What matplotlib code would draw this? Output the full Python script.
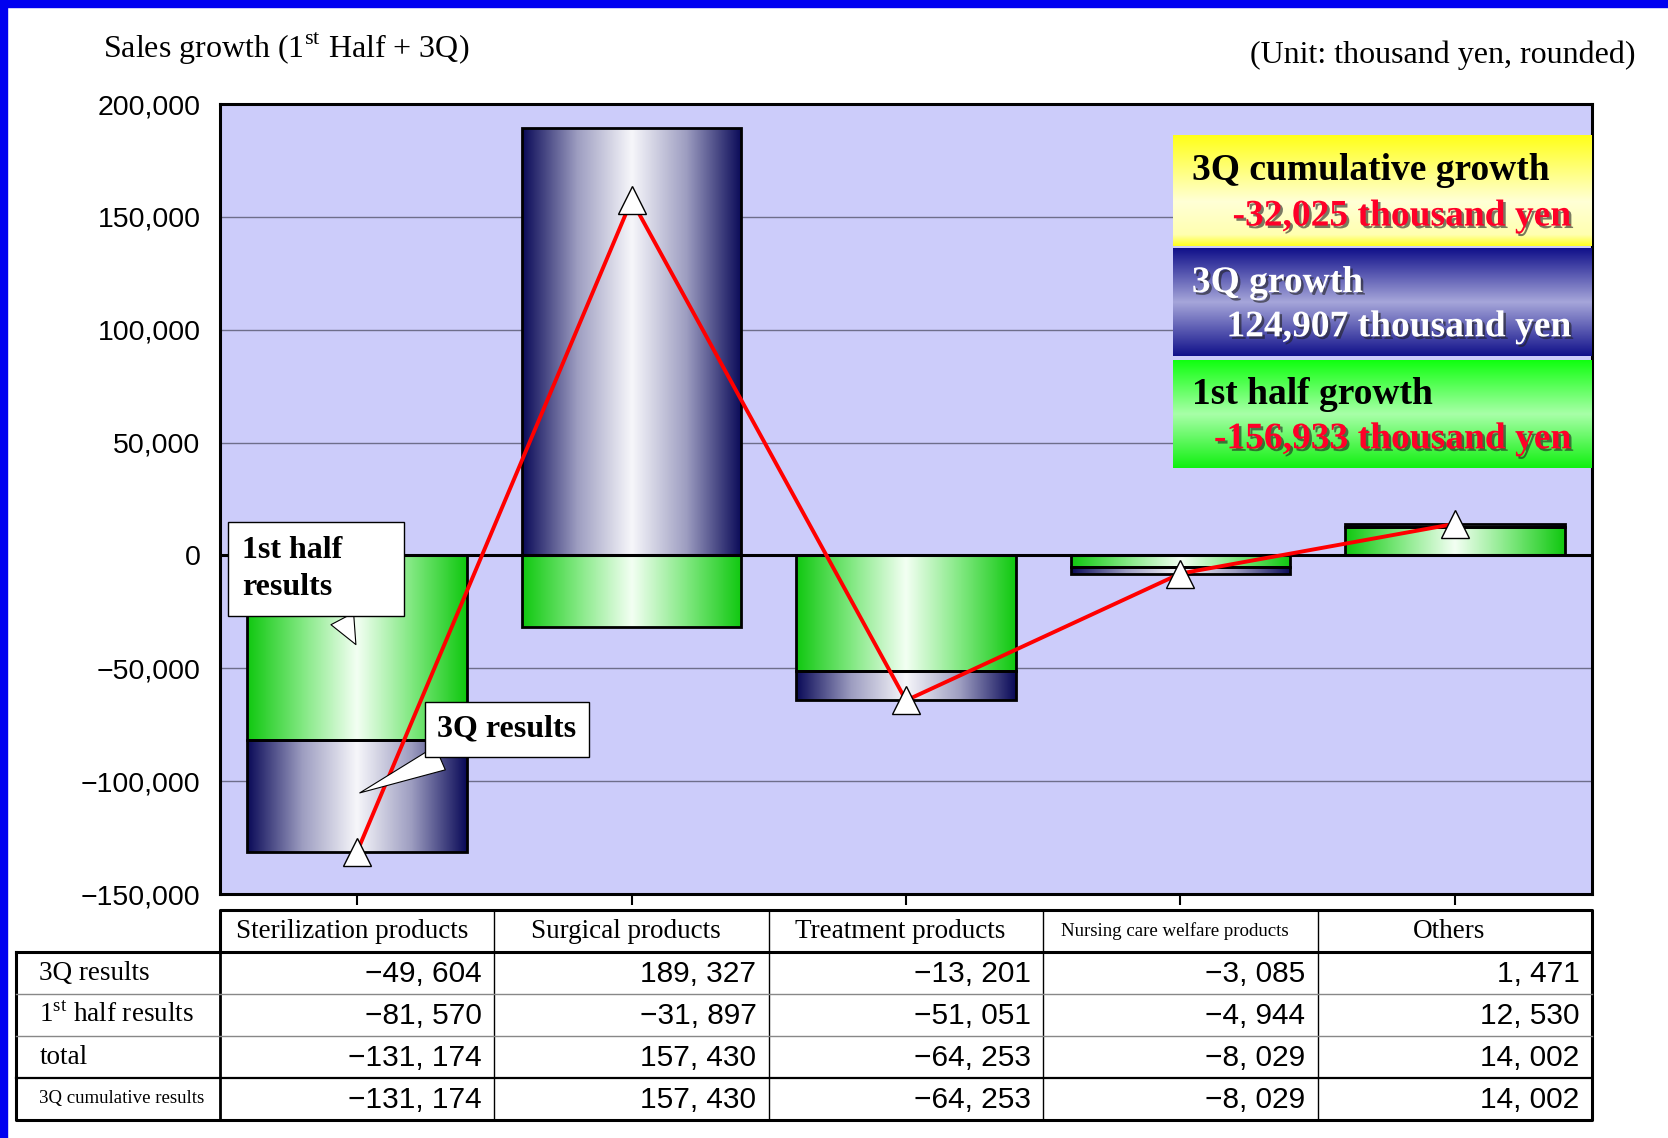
import numpy as np
import matplotlib
matplotlib.use("Agg")
import matplotlib.pyplot as plt
from matplotlib import patheffects as pe
from matplotlib.colors import LinearSegmentedColormap
from matplotlib.patches import Rectangle

plt.rcParams["mathtext.fontset"] = "custom"
plt.rcParams["mathtext.rm"] = "Liberation Serif"

# data
categories = ["Sterilization products", "Surgical products", "Treatment products",
              "Nursing care welfare products", "Others"]
q3_results = [-49604, 189327, -13201, -3085, 1471]
half1_results = [-81570, -31897, -51051, -4944, 12530]
totals = [-131174, 157430, -64253, -8029, 14002]
cumulative = [-131174, 157430, -64253, -8029, 14002]
row_labels = ["3Q results", "1$^{\\mathrm{st}}$ half results", "total", "3Q cumulative results"]
growth_titles = ["3Q cumulative growth", "3Q growth", "1st half growth"]
growth_values = ["-32,025 thousand yen", "124,907 thousand yen", "-156,933 thousand yen"]
y_ticks = [-150000, -100000, -50000, 0, 50000, 100000, 150000, 200000]

serif = "Liberation Serif"
W, H = 1668, 1138
fig = plt.figure(figsize=(W / 100, H / 100), dpi=100)

# blue frame top + left
fig.patches.append(Rectangle((0, 1 - 7 / H), 1, 7 / H, transform=fig.transFigure, color="#0000f0", zorder=10))
fig.patches.append(Rectangle((0, 0), 7 / W, 1, transform=fig.transFigure, color="#0000f0", zorder=10))

ax = fig.add_axes([220 / W, 1 - 894 / H, (1592 - 220) / W, (894 - 104) / H])
ax.set_facecolor("#ccccfa")

x = np.arange(len(categories))
# excel-like stacking: same sign stacks on the 1st half bar, else from zero
q3_bottom = [h if np.sign(h) == np.sign(q) else 0 for h, q in zip(half1_results, q3_results)]

navy_cmap = LinearSegmentedColormap.from_list("navy", ["#f6f6fa", "#9c9cc0", "#0a0a58"])
green_cmap = LinearSegmentedColormap.from_list("green", ["#f2fff2", "#80e880", "#10c810"])


def fill_gradient(bars, cmap):
    grad = np.abs(np.linspace(-1, 1, 256))[None, :]
    for b in bars:
        x0, y0 = b.get_x(), b.get_y()
        w, h = b.get_width(), b.get_height()
        im = ax.imshow(grad, cmap=cmap, aspect="auto", extent=[x0, x0 + w, y0, y0 + h],
                       interpolation="bilinear", zorder=2.5)
        im.set_clip_path(b)


bw = 0.8
bars_h = ax.bar(x, half1_results, width=bw, fc="none", ec="black", lw=2, zorder=3)
bars_q = ax.bar(x, q3_results, width=bw, bottom=q3_bottom, fc="none", ec="black", lw=2, zorder=3)
fill_gradient(bars_h, green_cmap)
fill_gradient(bars_q, navy_cmap)

ax.plot(x, totals, color="red", lw=2.8, marker="^", ms=20, mfc="white", mec="black", mew=1, zorder=5)

ax.set_xlim(-0.5, 4.5)
ax.set_ylim(-150000, 200000)
ax.set_yticks(y_ticks)
ax.set_yticklabels([f"{v:,}".replace("-", "\u2212") for v in y_ticks], fontsize=20.5, family="Liberation Sans")
ax.tick_params(axis="y", length=0, pad=14)
ax.set_xticks(x)
ax.set_xticklabels([])
ax.tick_params(axis="x", direction="out", length=8, width=1.5)
for v in y_ticks[1:-1]:
    if v != 0:
        ax.axhline(v, color="#6e6e8a", lw=1, zorder=1)
ax.axhline(0, color="black", lw=2.2, zorder=4)
for s in ax.spines.values():
    s.set_linewidth(2.2)

# callouts
wedge = dict(arrowstyle="wedge,tail_width=0.8,shrink_factor=0.5", fc="white", ec="black", lw=0.8)
ax.annotate("1st half      \nresults", xy=(0, -40600), xytext=(-0.15, -6000), ha="center", va="center",
            fontsize=23, fontweight="bold", family=serif, linespacing=1.4, multialignment="left",
            bbox=dict(boxstyle="square,pad=0.42", fc="white", ec="black", lw=1), arrowprops=wedge, zorder=6)
ax.annotate("3Q results", xy=(0, -105700), xytext=(0.546, -77000), ha="center", va="center",
            fontsize=23, fontweight="bold", family=serif,
            bbox=dict(boxstyle="square,pad=0.4", fc="white", ec="black", lw=1), arrowprops=wedge, zorder=6)

# growth boxes in upper right
box_cmaps = [
    LinearSegmentedColormap.from_list("y", [(0, "#ffff18"), (0.6, "#ffffd6"), (0.9, "#ffffb0"), (1, "#ffff20")]),
    LinearSegmentedColormap.from_list("b", [(0, "#10108a"), (0.5, "#a6a6da"), (1, "#10108a")]),
    LinearSegmentedColormap.from_list("g", [(0, "#10ff10"), (0.5, "#a8ffa8"), (1, "#10f010")]),
]
title_colors = ["black", "white", "black"]
box_tops = [135, 248, 360]
box_h = [111, 108, 108]
shadow = [pe.withSimplePatchShadow(offset=(1.8, -1.8), shadow_rgbFace="#202020", alpha=0.6)]
for i in range(3):
    bax = fig.add_axes([1173 / W, 1 - (box_tops[i] + box_h[i]) / H, (1592 - 1173) / W, box_h[i] / H], zorder=7)
    bax.imshow(np.linspace(0, 1, 256)[:, None], cmap=box_cmaps[i], aspect="auto",
               extent=[0, 1, 0, 1], interpolation="bilinear")
    bax.set_xlim(0, 1)
    bax.set_ylim(0, 1)
    bax.axis("off")
    bax.text(0.045, 0.68, growth_titles[i], color=title_colors[i], fontsize=27, fontweight="bold",
             family=serif, va="center", ha="left",
             path_effects=shadow if title_colors[i] == "white" else None)
    bax.text(0.95, 0.27, growth_values[i], color="white" if i == 1 else "#ff0028", fontsize=27,
             fontweight="bold", family=serif, va="center", ha="right", path_effects=shadow)

# titles
fig.text(103 / W, 1 - 49 / H, "Sales growth (1$^{\\mathrm{st}}$ Half + 3Q)", fontsize=23, family=serif,
         va="center", ha="left")
fig.text(1635 / W, 1 - 55 / H, "(Unit: thousand yen, rounded)", fontsize=23, family=serif,
         va="center", ha="right")

# table under chart, columns line up with the categories
tax = fig.add_axes([16 / W, 1 - 1120 / H, (1592 - 16) / W, (1120 - 910) / H])
left = -0.5 - (220 - 16) / ((1592 - 220) / 5)
tax.set_xlim(left, 4.5)
tax.set_ylim(0, 5)
tax.axis("off")
lk = dict(color="black", clip_on=False)
# header box
tax.plot([-0.5, -0.5, 4.5, 4.5], [4, 5, 5, 4], lw=2.2, **lk)
# body box
tax.plot([left, left, 4.5, 4.5, left], [4, 0, 0, 4, 4], lw=2.2, **lk)
tax.plot([-0.5, -0.5], [0, 4], lw=2, **lk)
for c in range(1, 5):
    tax.plot([c - 0.5, c - 0.5], [0, 5], lw=1, **lk)
tax.plot([left, 4.5], [3, 3], lw=1, color="#888888", clip_on=False)
tax.plot([left, 4.5], [2, 2], lw=1, color="#888888", clip_on=False)
tax.plot([left, 4.5], [1, 1], lw=1.6, **lk)

for i, name in enumerate(categories):
    fs = 13.6 if len(name) > 24 else 19.5
    tax.text(i - 0.02, 4.5, name, ha="center", va="center", fontsize=fs, family=serif)

rows = [q3_results, half1_results, totals, cumulative]
for r, (label, vals) in enumerate(zip(row_labels, rows)):
    yc = 3.5 - r
    fs = 13.6 if label.startswith("3Q cum") else 19.5
    tax.text(left + 0.085, yc, label, ha="left", va="center", fontsize=fs, family=serif)
    for i, v in enumerate(vals):
        s = f"{v:,}".replace(",", ", ").replace("-", "\u2212")
        tax.text(i + 0.455, yc - 0.03, s, ha="right", va="center", fontsize=21.5, family="Liberation Sans")

fig.savefig("out.png", dpi=100)
